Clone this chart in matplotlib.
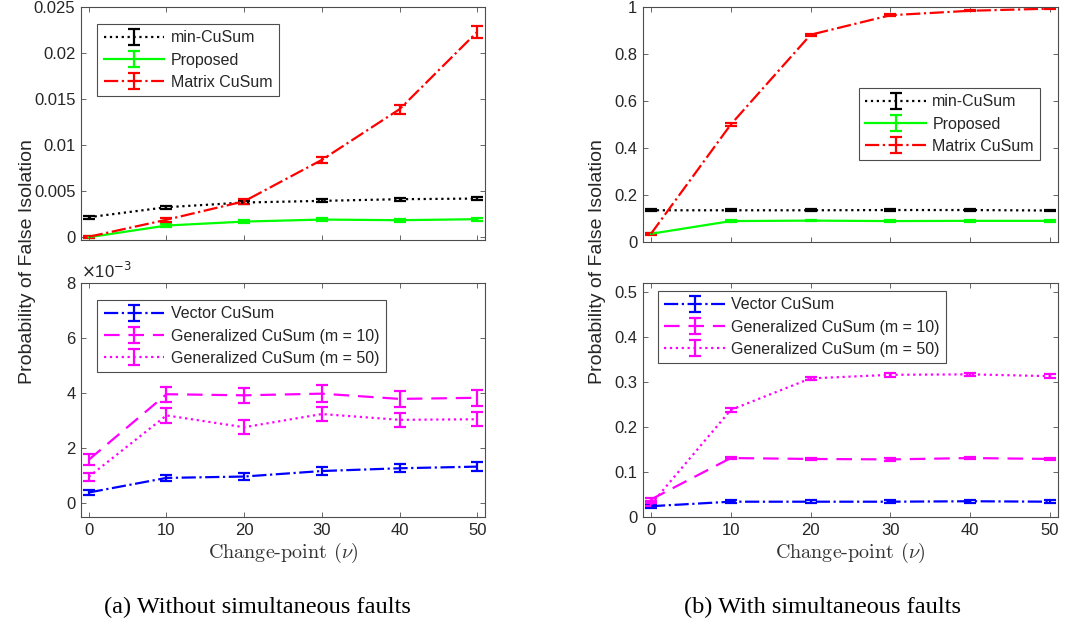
import numpy as np
import matplotlib
matplotlib.use('Agg')
import matplotlib.pyplot as plt
from matplotlib.ticker import FuncFormatter

plt.rcParams['font.family'] = ['Liberation Sans', 'DejaVu Sans']
plt.rcParams['mathtext.fontset'] = 'cm'

nu = [0, 10, 20, 30, 40, 50]

# (a) without simultaneous faults, top panel
min_cusum_a = [0.00217, 0.00326, 0.00377, 0.00395, 0.00413, 0.0042]
min_cusum_a_err = [0.00015, 0.00015, 0.00015, 0.00015, 0.00015, 0.00015]
proposed_a = [0.0, 0.00127, 0.0017, 0.00192, 0.00185, 0.00196]
proposed_a_err = [0.00012, 0.00015, 0.00015, 0.00015, 0.00015, 0.00015]
matrix_a = [0.00005, 0.0019, 0.0039, 0.0084, 0.0139, 0.0223]
matrix_a_err = [0.0001, 0.0002, 0.00025, 0.00035, 0.0005, 0.00065]

# (a) bottom panel, in units of 1e-3
vector_a = [0.39, 0.92, 0.97, 1.17, 1.27, 1.33]
vector_a_err = [0.08, 0.12, 0.12, 0.14, 0.15, 0.17]
gen10_a = [1.58, 3.96, 3.92, 3.98, 3.79, 3.83]
gen10_a_err = [0.2, 0.28, 0.27, 0.3, 0.28, 0.3]
gen50_a = [0.96, 3.19, 2.76, 3.24, 3.03, 3.05]
gen50_a_err = [0.15, 0.26, 0.25, 0.27, 0.25, 0.25]

# (b) with simultaneous faults, top panel
min_cusum_b = [0.135, 0.135, 0.135, 0.136, 0.136, 0.134]
min_cusum_b_err = [0.004, 0.004, 0.004, 0.004, 0.004, 0.004]
proposed_b = [0.035, 0.089, 0.091, 0.089, 0.090, 0.090]
proposed_b_err = [0.003, 0.003, 0.003, 0.003, 0.003, 0.003]
matrix_b = [0.035, 0.50, 0.882, 0.965, 0.984, 0.993]
matrix_b_err = [0.004, 0.005, 0.005, 0.004, 0.003, 0.003]

# (b) bottom panel
vector_b = [0.024, 0.034, 0.034, 0.034, 0.035, 0.034]
vector_b_err = [0.003, 0.003, 0.003, 0.003, 0.003, 0.003]
gen10_b = [0.039, 0.131, 0.129, 0.128, 0.131, 0.129]
gen10_b_err = [0.003, 0.003, 0.003, 0.003, 0.003, 0.003]
gen50_b = [0.028, 0.238, 0.308, 0.316, 0.317, 0.313]
gen50_b_err = [0.004, 0.004, 0.004, 0.004, 0.004, 0.004]

W, H = 1071, 626
fig = plt.figure(figsize=(W/100, H/100), dpi=100)

def px_axes(x0, y0, x1, y1):
    return fig.add_axes([x0/W, 1-y1/H, (x1-x0)/W, (y1-y0)/H])

ax1 = px_axes(81, 7, 485, 240)
ax2 = px_axes(81, 283, 485, 517)
ax3 = px_axes(643, 7, 1058, 242)
ax4 = px_axes(643, 283, 1058, 517)

tc = '#262626'
fmt = FuncFormatter(lambda v, p: '%g' % v)

def eb(ax, y, e, color, ls, label):
    ax.errorbar(nu, y, yerr=e, color=color, ls=ls, lw=1.6, capsize=4,
                elinewidth=1.6, capthick=1.6, label=label)

def style(ax, ylim, yticks, xlabels):
    ax.set_xlim(-1, 51)
    ax.set_ylim(*ylim)
    ax.set_xticks(nu)
    ax.set_yticks(yticks)
    ax.yaxis.set_major_formatter(fmt)
    ax.tick_params(direction='in', top=True, right=True, length=3.5, width=0.6,
                   labelsize=12, labelcolor=tc, color='#4d4d4d', pad=4)
    if not xlabels:
        ax.tick_params(labelbottom=False)
    for s in ax.spines.values():
        s.set_color('#4d4d4d')
        s.set_linewidth(0.8)

def leg(ax, **kw):
    l = ax.legend(fontsize=11.5, handlelength=3.8, handletextpad=0.4,
                  labelspacing=0.45, borderpad=0.4, borderaxespad=0,
                  fancybox=False, framealpha=1, **kw)
    l.get_frame().set_edgecolor('#4d4d4d')
    l.get_frame().set_linewidth(0.8)
    for t in l.get_texts():
        t.set_color(tc)

# (a) top
eb(ax1, min_cusum_a, min_cusum_a_err, 'black', ':', 'min-CuSum')
eb(ax1, proposed_a, proposed_a_err, '#00ff00', '-', 'Proposed')
eb(ax1, matrix_a, matrix_a_err, 'red', '-.', 'Matrix CuSum')
style(ax1, (-0.0003, 0.025), [0, 0.005, 0.01, 0.015, 0.02, 0.025], False)
leg(ax1, loc='upper left', bbox_to_anchor=(0.04, 0.927))

# (a) bottom
eb(ax2, vector_a, vector_a_err, 'blue', '-.', 'Vector CuSum')
eb(ax2, gen10_a, gen10_a_err, 'magenta', (0, (7, 4)), 'Generalized CuSum (m = 10)')
eb(ax2, gen50_a, gen50_a_err, 'magenta', ':', 'Generalized CuSum (m = 50)')
style(ax2, (-0.5, 8), [0, 2, 4, 6, 8], True)
leg(ax2, loc='upper left', bbox_to_anchor=(0.04, 0.927))
ax2.text(0, 1.01, r'$\times$10$^{-3}$', transform=ax2.transAxes, fontsize=12,
         color=tc, ha='left', va='bottom', math_fontfamily='dejavusans')

# (b) top
eb(ax3, min_cusum_b, min_cusum_b_err, 'black', ':', 'min-CuSum')
eb(ax3, proposed_b, proposed_b_err, '#00ff00', '-', 'Proposed')
eb(ax3, matrix_b, matrix_b_err, 'red', '-.', 'Matrix CuSum')
style(ax3, (0, 1), [0, 0.2, 0.4, 0.6, 0.8, 1], False)
leg(ax3, loc='upper right', bbox_to_anchor=(0.957, 0.655))

# (b) bottom
eb(ax4, vector_b, vector_b_err, 'blue', '-.', 'Vector CuSum')
eb(ax4, gen10_b, gen10_b_err, 'magenta', (0, (7, 4)), 'Generalized CuSum (m = 10)')
eb(ax4, gen50_b, gen50_b_err, 'magenta', ':', 'Generalized CuSum (m = 50)')
style(ax4, (0, 0.52), [0, 0.1, 0.2, 0.3, 0.4, 0.5], True)
leg(ax4, loc='upper left', bbox_to_anchor=(0.036, 0.966))

for xc in (28, 598):
    fig.text(xc/W, 1-262/H, 'Probability of False Isolation', rotation=90,
             ha='center', va='center', fontsize=14, color=tc)
for xc in (283, 850):
    fig.text(xc/W, 1-553/H, r'Change-point ($\nu$)', family='cmr10',
             ha='center', va='center', fontsize=14.5, color='#333333')
fig.text(257/W, 1-607/H, '(a) Without simultaneous faults', family='Liberation Serif',
         ha='center', va='center', fontsize=17.5)
fig.text(822/W, 1-607/H, '(b) With simultaneous faults', family='Liberation Serif',
         ha='center', va='center', fontsize=17.5)

fig.savefig('out.png', dpi=100)
